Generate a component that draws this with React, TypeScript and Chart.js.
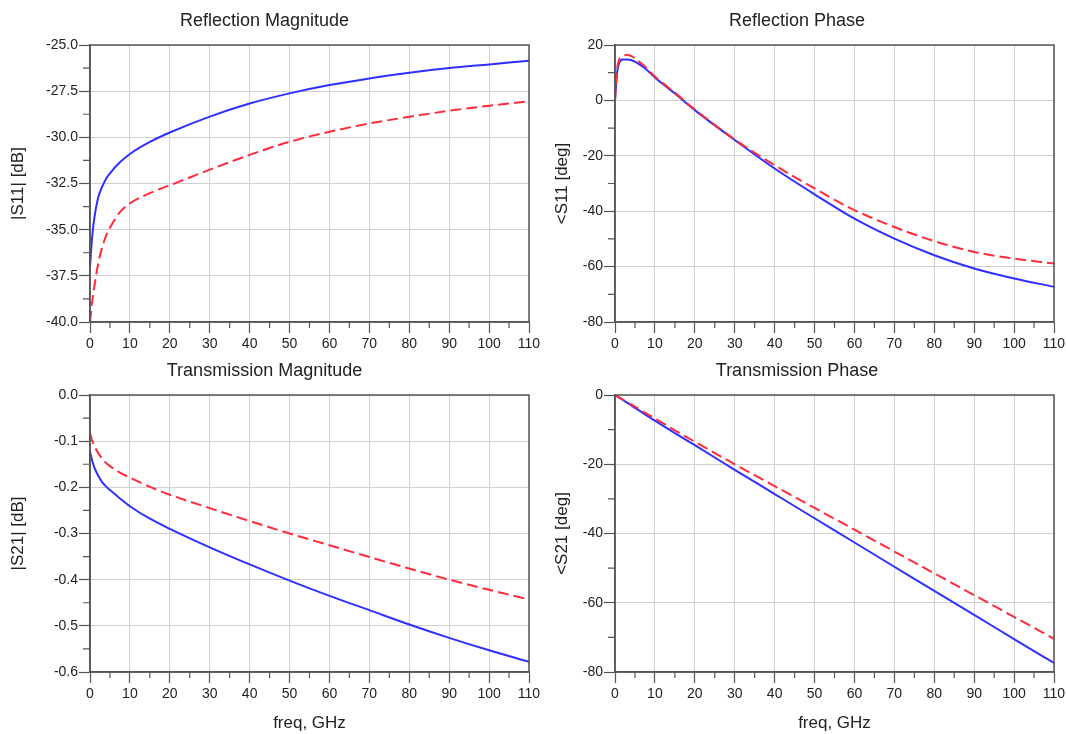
import React, { useEffect, useRef } from "react";
import { Chart, registerables } from "chart.js";

Chart.register(...registerables);

// ---- data ----
const freq = [0, 0.5, 1, 2, 3, 4, 5, 7.5, 10, 15, 20, 30, 40, 50, 60, 70, 80, 90, 100, 110];

const s11MagBlue = [-37.0, -35.5, -34.5, -33.3, -32.7, -32.25, -31.95, -31.35, -30.9, -30.25, -29.74, -28.88, -28.17, -27.62, -27.17, -26.81, -26.5, -26.25, -26.05, -25.85];
const s11MagRed = [-40.0, -39.0, -38.2, -36.9, -36.0, -35.35, -34.9, -34.05, -33.58, -33.02, -32.6, -31.75, -30.95, -30.24, -29.7, -29.25, -28.89, -28.56, -28.29, -28.05];

const s11PhBlue = [0, 9.8, 13.4, 14.8, 14.8, 14.6, 14.0, 11.6, 8.3, 2.5, -3.5, -14.3, -24.6, -33.9, -42.7, -49.9, -55.9, -60.7, -64.3, -67.3];
const s11PhRed = [0, 11.0, 14.6, 16.0, 16.4, 16.1, 15.2, 12.2, 8.6, 2.8, -3.3, -14.1, -23.4, -31.8, -39.6, -45.7, -50.8, -54.7, -57.1, -58.9];

const s21MagBlue = [-0.123, -0.141, -0.155, -0.174, -0.188, -0.198, -0.206, -0.224, -0.241, -0.268, -0.29, -0.33, -0.367, -0.402, -0.435, -0.466, -0.497, -0.526, -0.553, -0.578];
const s21MagRed = [-0.083, -0.098, -0.108, -0.125, -0.137, -0.147, -0.154, -0.168, -0.179, -0.199, -0.216, -0.245, -0.273, -0.3, -0.3255, -0.351, -0.376, -0.4, -0.422, -0.443];

const s21PhBlue = [0, -0.35, -0.7, -1.45, -2.2, -2.95, -3.7, -5.6, -7.4, -11.0, -14.5, -21.6, -28.6, -35.6, -42.6, -49.6, -56.6, -63.5, -70.5, -77.4];
const s21PhRed = [0, -0.33, -0.66, -1.35, -2.0, -2.7, -3.35, -5.1, -6.8, -10.2, -13.5, -20.0, -26.3, -32.6, -38.9, -45.2, -51.5, -57.8, -64.1, -70.4];

const xTicks = { min: 0, max: 110, step: 10 };
const yTicksS11Mag = { min: -40, max: -25, step: 2.5, decimals: 1 };
const yTicksS11Ph = { min: -80, max: 20, step: 20, decimals: 0 };
const yTicksS21Mag = { min: -0.6, max: 0, step: 0.1, decimals: 1 };
const yTicksS21Ph = { min: -80, max: 0, step: 20, decimals: 0 };

// ---- styles ----
const FONT = "'Liberation Sans', Arial, Helvetica, sans-serif";
const AXIS = "#555555";
const GRID = "#d0d0d0";
const TEXT = "#222222";
const BLUE = "#2f2fff";
const RED = "#ff2a3a";

const frameTicks = {
  id: "frameTicks",
  afterDraw(chart: any) {
    const { ctx, chartArea: a, scales } = chart;
    const xs = scales.x, ys = scales.y;
    ctx.save();
    ctx.strokeStyle = AXIS;
    ctx.lineWidth = 1.5;
    ctx.strokeRect(a.left, a.top, a.right - a.left, a.bottom - a.top);
    ctx.lineWidth = 1.2;
    ctx.beginPath();
    const xt = xs.ticks.map((t: any) => t.value);
    for (let i = 0; i < xt.length - 1; i++) {
      const px = xs.getPixelForValue((xt[i] + xt[i + 1]) / 2);
      ctx.moveTo(px, a.bottom);
      ctx.lineTo(px, a.bottom + 6);
    }
    const yt = ys.ticks.map((t: any) => t.value);
    for (let i = 0; i < yt.length - 1; i++) {
      const py = ys.getPixelForValue((yt[i] + yt[i + 1]) / 2);
      ctx.moveTo(a.left, py);
      ctx.lineTo(a.left - 7, py);
    }
    ctx.stroke();
    ctx.restore();
  },
};

type PanelProps = {
  left: number;
  top: number;
  width: number;
  height: number;
  title: string;
  yTitle: string;
  xTitle?: string;
  blue: number[];
  red: number[];
  yTicks: { min: number; max: number; step: number; decimals: number };
  yAxisWidth: number;
  yTitlePad: number;
  padTop: number;
  titlePadBottom: number;
  xAxisHeight: number;
  padRight: number;
};

function Panel(p: PanelProps) {
  const ref = useRef<HTMLCanvasElement | null>(null);
  useEffect(() => {
    if (!ref.current) return;
    const mk = (vals: number[]) => freq.map((f, i) => ({ x: f, y: vals[i] }));
    const chart = new Chart(ref.current, {
      type: "line",
      data: {
        datasets: [
          {
            data: mk(p.red),
            borderColor: RED,
            borderWidth: 2,
            borderDash: [11, 5],
            pointRadius: 0,
            cubicInterpolationMode: "monotone",
            fill: false,
          },
          {
            data: mk(p.blue),
            borderColor: BLUE,
            borderWidth: 2,
            pointRadius: 0,
            cubicInterpolationMode: "monotone",
            fill: false,
          },
        ],
      },
      options: {
        animation: false,
        responsive: false,
        devicePixelRatio: 1,
        layout: { padding: { top: p.padTop, right: p.padRight, left: 0, bottom: 0 } },
        plugins: {
          legend: { display: false },
          tooltip: { enabled: false },
          title: {
            display: true,
            text: p.title,
            color: TEXT,
            font: { family: FONT, size: 18, weight: "normal" },
            padding: { top: 0, bottom: p.titlePadBottom },
          },
        },
        scales: {
          x: {
            type: "linear",
            min: xTicks.min,
            max: xTicks.max,
            afterFit: (s: any) => {
              s.height = p.xAxisHeight;
              s.paddingLeft = 0;
              s.paddingRight = 0;
            },
            ticks: {
              stepSize: xTicks.step,
              color: TEXT,
              font: { family: FONT, size: 14 },
              padding: 3,
              maxRotation: 0,
            },
            grid: { color: GRID, lineWidth: 1, tickLength: 11, tickColor: AXIS, tickWidth: 1.2 },
            border: { display: true, color: AXIS, width: 1.5 },
            title: p.xTitle
              ? {
                  display: true,
                  text: p.xTitle,
                  color: TEXT,
                  font: { family: FONT, size: 17 },
                  padding: { top: 0, bottom: 0 },
                }
              : { display: false },
          },
          y: {
            type: "linear",
            min: p.yTicks.min,
            max: p.yTicks.max,
            afterFit: (s: any) => {
              s.width = p.yAxisWidth;
              s.paddingTop = 0;
              s.paddingBottom = 0;
            },
            ticks: {
              stepSize: p.yTicks.step,
              color: TEXT,
              font: { family: FONT, size: 14 },
              padding: 1,
              callback: (v: any) => {
                const n = Number(v);
                if (Math.abs(n) < 1e-9) return (0).toFixed(p.yTicks.decimals);
                return n.toFixed(p.yTicks.decimals);
              },
            },
            grid: { color: GRID, lineWidth: 1, tickLength: 11, tickColor: AXIS, tickWidth: 1.2 },
            border: { display: true, color: AXIS, width: 1.5 },
            title: {
              display: true,
              text: p.yTitle,
              color: TEXT,
              font: { family: FONT, size: 17 },
              padding: { top: p.yTitlePad, bottom: 0 },
            },
          },
        },
      },
      plugins: [frameTicks],
    } as any);
    return () => chart.destroy();
  }, []);
  return (
    <canvas
      ref={ref}
      width={p.width}
      height={p.height}
      style={{ position: "absolute", left: p.left, top: p.top, width: p.width, height: p.height }}
    />
  );
}

export default function App() {
  return (
    <div style={{ position: "absolute", left: 0, top: 0, width: 1066, height: 734, background: "#fff", overflow: "hidden" }}>
      <Panel
        left={0} top={0} width={540} height={360}
        title="Reflection Magnitude" yTitle="|S11| [dB]"
        blue={s11MagBlue} red={s11MagRed} yTicks={yTicksS11Mag}
        yAxisWidth={90} yTitlePad={7.8} padTop={10.2} titlePadBottom={13.2} xAxisHeight={38} padRight={11}
      />
      <Panel
        left={540} top={0} width={526} height={360}
        title="Reflection Phase" yTitle="<S11 [deg]"
        blue={s11PhBlue} red={s11PhRed} yTicks={yTicksS11Ph}
        yAxisWidth={75} yTitlePad={12} padTop={10.2} titlePadBottom={13.2} xAxisHeight={38} padRight={12}
      />
      <Panel
        left={0} top={352} width={540} height={382}
        title="Transmission Magnitude" yTitle="|S21| [dB]" xTitle="freq, GHz"
        blue={s21MagBlue} red={s21MagRed} yTicks={yTicksS21Mag}
        yAxisWidth={90} yTitlePad={7.8} padTop={8.2} titlePadBottom={13.2} xAxisHeight={62} padRight={11}
      />
      <Panel
        left={540} top={352} width={526} height={382}
        title="Transmission Phase" yTitle="<S21 [deg]" xTitle="freq, GHz"
        blue={s21PhBlue} red={s21PhRed} yTicks={yTicksS21Ph}
        yAxisWidth={75} yTitlePad={12} padTop={8.2} titlePadBottom={13.2} xAxisHeight={62} padRight={12}
      />
    </div>
  );
}
